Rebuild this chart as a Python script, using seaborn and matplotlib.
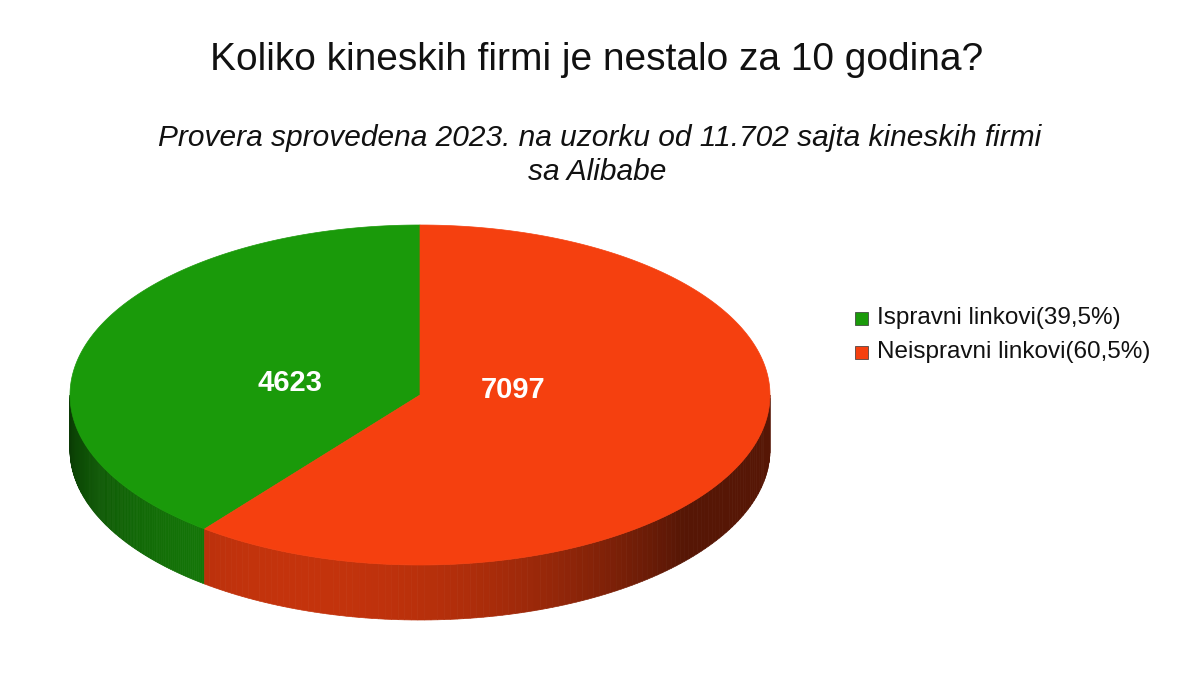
import numpy as np
import matplotlib
matplotlib.use("Agg")
import matplotlib.pyplot as plt
import seaborn as sns
from matplotlib.patches import Polygon, Rectangle
import matplotlib.colors as mc

sns.set_theme(style="white")
plt.rcParams['font.family'] = ['Liberation Sans', 'DejaVu Sans']

categories = ["Ispravni linkovi(39,5%)", "Neispravni linkovi(60,5%)"]
values = [4623, 7097]
colors = ["#1a9a0a", "#f5400f"]

fig = plt.figure(figsize=(12, 6.74), dpi=100)
ax = fig.add_axes([0, 0, 1, 1])
ax.set_xlim(0, 1200); ax.set_ylim(674, 0); ax.axis("off")

cx, cy, rx, ry, depth = 420, 395, 350, 170, 55
fr = np.array(values) / np.sum(values)
starts = 90 + 360 * np.concatenate([[0], np.cumsum(fr)[:-1]])
ends = starts + 360 * fr

def pt(a, d=0):
    r = np.radians(a)
    return cx + rx * np.cos(r), cy - ry * np.sin(r) + d

for s, e, c in zip(starts, ends, colors):
    lo, hi = max(s, 180), min(e, 360)
    if hi <= lo:
        continue
    angs = np.linspace(lo, hi, 120)
    base = np.array(mc.to_rgb(c))
    for a0, a1 in zip(angs[:-1], angs[1:]):
        t = (a0 - 180) / 180
        shade = 0.35 + 0.45 * np.sin(np.pi * min(1, t * 1.3))
        col = np.clip(base * shade, 0, 1)
        p = [pt(a0), pt(a1), pt(a1, depth), pt(a0, depth)]
        ax.add_patch(Polygon(p, closed=True, fc=col, ec=col, lw=0.5))

for s, e, c in zip(starts, ends, colors):
    angs = np.linspace(s, e, 200)
    p = [(cx, cy)] + [pt(a) for a in angs]
    ax.add_patch(Polygon(p, closed=True, fc=c, ec=c, lw=0.5))

ax.text(290, 383, f"{values[0]}", color="white", fontsize=21, fontweight="bold", ha="center", va="center")
ax.text(513, 390, f"{values[1]}", color="white", fontsize=21, fontweight="bold", ha="center", va="center")

ax.text(597, 60, "Koliko kineskih firmi je nestalo za 10 godina?", fontsize=28, ha="center", va="center", color="#111")
ax.text(600, 138, "Provera sprovedena 2023. na uzorku od 11.702 sajta kineskih firmi", fontsize=21.5, style="italic", ha="center", va="center", color="#111")
ax.text(597, 172, "sa Alibabe", fontsize=21.5, style="italic", ha="center", va="center", color="#111")

for i, (lab, c) in enumerate(zip(categories, colors)):
    y = 318 + 34 * i
    ax.add_patch(Rectangle((855, y - 6), 13, 13, fc=c, ec="#333", lw=0.5))
    ax.text(877, y, lab, fontsize=17.5, va="center", ha="left", color="#111")

fig.savefig("out.png", dpi=100)
